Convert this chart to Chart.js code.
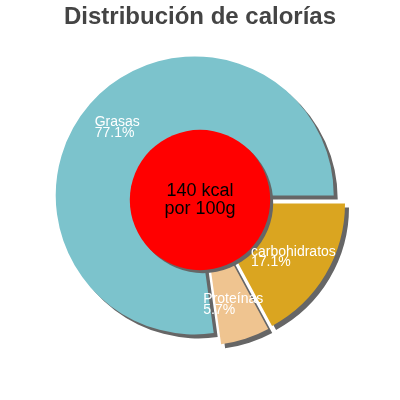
<!DOCTYPE html>
<html>
<head>
<meta charset="utf-8">
<script src="https://cdn.jsdelivr.net/npm/chart.js@4.4.1/dist/chart.umd.min.js"></script>
<style>
    html, body { margin: 0; padding: 0; background: #fff; }
    #wrap { width: 400px; height: 400px; }
</style>
</head>
<body>
<div id="wrap"><canvas id="calChart" width="400" height="400"></canvas></div>
<script>
// Chart data
const categories = ['carbohidratos', 'Proteínas', 'Grasas'];
const percentages = [17.1, 5.7, 77.1];
const sliceColors = ['#DAA520', '#EFC490', '#7CC3CC'];
const centerLines = ['140 kcal', 'por 100g'];

// how far each slice is pulled out, in pixels
const EXPLODE_PX = 7;
// label baselines relative to pie centre
const labelAnchors = [[51, 55.5], [3.3, 102.7], [-105.3, -74.3]];

Chart.defaults.font.family = '"Liberation Sans", Arial, sans-serif';

// Draw the slices ourselves: pulled out along their mid angle, with a drop shadow.
// (the built-in offset option also grows the radius, which we don't want)
const explodePlugin = {
    id: 'explode',
    beforeDatasetDraw(chart, args) {
        const ctx = chart.ctx;
        ctx.save();
        ctx.shadowColor = '#666666';
        ctx.shadowOffsetX = 4;
        ctx.shadowOffsetY = 4;
        ctx.shadowBlur = 0;
        args.meta.data.forEach(arc => {
            const mid = (arc.startAngle + arc.endAngle) / 2;
            ctx.save();
            ctx.translate(Math.cos(mid) * EXPLODE_PX, Math.sin(mid) * EXPLODE_PX);
            arc.draw(ctx);
            ctx.restore();
        });
        ctx.restore();
        return false;
    }
};

// Red centre disc, centre text and slice labels
const overlayPlugin = {
    id: 'overlay',
    afterDatasetsDraw(chart) {
        const ctx = chart.ctx;
        const first = chart.getDatasetMeta(0).data[0];
        const cx = first.x;
        const cy = first.y;
        const r = first.outerRadius;

        ctx.save();
        ctx.shadowColor = '#666666';
        ctx.shadowOffsetX = 3;
        ctx.shadowOffsetY = 3;
        ctx.fillStyle = '#FF0000';
        ctx.beginPath();
        ctx.arc(cx, cy, r * 0.505, 0, Math.PI * 2);
        ctx.fill();
        ctx.restore();

        ctx.save();
        ctx.fillStyle = '#000';
        ctx.font = '18px "Liberation Sans", Arial, sans-serif';
        ctx.textAlign = 'center';
        ctx.textBaseline = 'alphabetic';
        ctx.fillText(centerLines[0], cx, cy - 4);
        ctx.fillText(centerLines[1], cx, cy + 13.5);
        ctx.restore();

        ctx.save();
        ctx.fillStyle = '#fff';
        ctx.font = '14px "Liberation Sans", Arial, sans-serif';
        ctx.textAlign = 'left';
        ctx.textBaseline = 'alphabetic';
        categories.forEach((name, i) => {
            const x = cx + labelAnchors[i][0];
            const y = cy + labelAnchors[i][1];
            ctx.fillText(name, x, y);
            ctx.fillText(percentages[i].toFixed(1) + '%', x, y + 10.8);
        });
        ctx.restore();
    }
};

new Chart(document.getElementById('calChart'), {
    type: 'pie',
    data: {
        labels: categories,
        datasets: [{
            data: percentages,
            backgroundColor: sliceColors,
            borderWidth: 0,
            offset: 0
        }]
    },
    options: {
        responsive: false,
        animation: false,
        rotation: 90,
        radius: 139,
        layout: {
            padding: { left: 0, right: 0, top: 0, bottom: 41.8 }
        },
        plugins: {
            legend: { display: false },
            tooltip: { enabled: false },
            title: {
                display: true,
                text: 'Distribución de calorías',
                color: '#444444',
                font: { size: 24, weight: 'bold' },
                padding: { top: 3, bottom: 10 }
            }
        }
    },
    plugins: [explodePlugin, overlayPlugin]
});
</script>
</body>
</html>
